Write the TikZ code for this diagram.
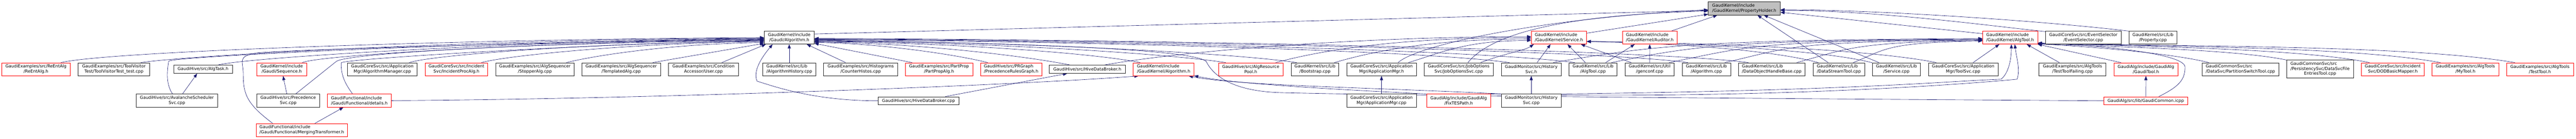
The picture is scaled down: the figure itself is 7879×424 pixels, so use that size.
\documentclass[tikz,border=0pt]{standalone}
\usepackage{fontspec}
\setmainfont{DejaVu Sans}
\usetikzlibrary{arrows.meta,backgrounds}
\definecolor{edgeblue}{HTML}{191970}
\definecolor{truncred}{HTML}{FF0000}
\definecolor{rootgrey}{HTML}{BFBFBF}
\newcommand{\gfont}{\fontsize{9.7pt}{11.5pt}\selectfont}
\tikzset{
  filebox/.style={draw=black!85, fill=white, line width=0.8pt, inner sep=0pt,
    minimum height=30pt, font=\gfont, align=center},
  truncbox/.style={filebox, draw=truncred},
  rootbox/.style={filebox, fill=rootgrey},
  wd/.style={minimum width=#1*0.75pt},
  oneline/.style={minimum height=18.75pt},
  dep/.style={draw=edgeblue, line width=0.75pt, -{Triangle[length=9.5pt,width=7pt]}}
}

\begin{document}
\begin{tikzpicture}[x=0.75pt,y=-0.75pt]
\useasboundingbox (0,0) rectangle (7879,424);

% root
\node[rootbox, wd=220, align=left] (propholder) at (5335,26) {GaudiKernel/include\\/GaudiKernel/PropertyHolder.h};

% first row of includers
\node[filebox, wd=153] (galgo) at (2414,115) {GaudiKernel/include\\/Gaudi/Algorithm.h};
\node[truncbox, wd=169, align=left] (serviceh) at (4768,115) {GaudiKernel/include\\/GaudiKernel/Service.h};
\node[truncbox, wd=167, align=left] (auditorh) at (5046,115) {GaudiKernel/include\\/GaudiKernel/Auditor.h};
\node[truncbox, wd=168, align=left] (algtoolh) at (6148,115) {GaudiKernel/include\\/GaudiKernel/AlgTool.h};
\node[filebox, wd=231] (evtsel) at (6372,115) {GaudiCoreSvc/src/EventSelector\\/EventSelector.cpp};
\node[filebox, wd=147] (propcpp) at (6585,115) {GaudiKernel/src/Lib\\/Property.cpp};

% second row
\node[truncbox, wd=210] (reentalg) at (110,212) {GaudiExamples/src/ReEntAlg\\/ReEntAlg.h};
\node[filebox, wd=219] (toolvisit) at (348.5,212) {GaudiExamples/src/ToolVisitor\\Test/ToolVisitorTest\_test.cpp};
\node[filebox, wd=179, oneline] (algtask) at (621,212) {GaudiHive/src/AlgTask.h};
\node[truncbox, wd=153] (sequence) at (861.5,212) {GaudiKernel/include\\/Gaudi/Sequence.h};
\node[filebox, wd=213] (algmgr) at (1169.5,212) {GaudiCoreSvc/src/Application\\Mgr/AlgorithmManager.cpp};
\node[truncbox, wd=192] (incproc) at (1396,212) {GaudiCoreSvc/src/Incident\\Svc/IncidentProcAlg.h};
\node[filebox, wd=240] (stopper) at (1636,212) {GaudiExamples/src/AlgSequencer\\/StopperAlg.cpp};
\node[filebox, wd=241] (templalg) at (1900,212) {GaudiExamples/src/AlgSequencer\\/TemplatedAlg.cpp};
\node[filebox, wd=213] (user) at (2151.5,212) {GaudiExamples/src/Condition\\Accessor/User.cpp};
\node[filebox, wd=163, align=left] (alghist) at (2414,212) {GaudiKernel/src/Lib\\/AlgorithmHistory.cpp};
\node[filebox, wd=227] (counter) at (2632.5,212) {GaudiExamples/src/Histograms\\/CounterHistos.cpp};
\node[truncbox, wd=206] (partprop) at (2872,212) {GaudiExamples/src/PartProp\\/PartPropAlg.h};
\node[truncbox, wd=187, align=left] (prgraph) at (3092.5,212) {GaudiHive/src/PRGraph\\/PrecedenceRulesGraph.h};
\node[filebox, wd=233, oneline] (brokerh) at (3325.5,212) {GaudiHive/src/HiveDataBroker.h};
\node[truncbox, wd=186, align=left] (gkalgh) at (3559,212) {GaudiKernel/include\\/GaudiKernel/Algorithm.h};
\node[truncbox, wd=197] (respool) at (3825.5,212) {GaudiHive/src/AlgResource\\Pool.h};
\node[filebox, wd=146] (bootstrap) at (4022,212) {GaudiKernel/src/Lib\\/Bootstrap.cpp};
\node[filebox, wd=213] (appmgrh) at (4225.5,212) {GaudiCoreSvc/src/Application\\Mgr/ApplicationMgr.h};
\node[filebox, wd=211] (joboptsvc) at (4461.5,212) {GaudiCoreSvc/src/JobOptions\\Svc/JobOptionsSvc.cpp};
\node[filebox, wd=183] (histsvch) at (4683.5,212) {GaudiMonitor/src/History\\Svc.h};
\node[filebox, wd=147] (algtoolcpp) at (4872.5,212) {GaudiKernel/src/Lib\\/AlgTool.cpp};
\node[filebox, wd=151] (genconf) at (5045.5,212) {GaudiKernel/src/Util\\/genconf.cpp};
\node[filebox, wd=148] (algcpp) at (5219,212) {GaudiKernel/src/Lib\\/Algorithm.cpp};
\node[filebox, wd=204, align=left] (dohandle) at (5419,212) {GaudiKernel/src/Lib\\/DataObjectHandleBase.cpp};
\node[filebox, wd=157, align=left] (dstream) at (5624.5,212) {GaudiKernel/src/Lib\\/DataStreamTool.cpp};
\node[filebox, wd=147] (servcpp) at (5800.5,212) {GaudiKernel/src/Lib\\/Service.cpp};
\node[filebox, wd=213] (toolsvc) at (6004.5,212) {GaudiCoreSvc/src/Application\\Mgr/ToolSvc.cpp};
\node[filebox, wd=205] (toolfail) at (6339,212) {GaudiExamples/src/AlgTools\\/TestToolFailing.cpp};
\node[truncbox, wd=195] (gauditool) at (6563.5,212) {GaudiAlg/include/GaudiAlg\\/GaudiTool.h};
\node[filebox, wd=235, align=left] (partsw) at (6852.5,212) {GaudiCommonSvc/src\\/DataSvc/PartitionSwitchTool.cpp};
\node[filebox, wd=204.5, minimum height=41.25pt] (fileentries) at (7096,211.5) {\begin{tabular}{@{}l@{}}GaudiCommonSvc/src\\/PersistencySvc/DataSvcFile\\\multicolumn{1}{@{}c@{}}{EntriesTool.cpp}\end{tabular}};
\node[truncbox, wd=191] (dodmapper) at (7318.5,212) {GaudiCoreSvc/src/Incident\\Svc/DODBasicMapper.h};
\node[truncbox, wd=205] (mytool) at (7540.5,212) {GaudiExamples/src/AlgTools\\/MyTool.h};
\node[truncbox, wd=205] (testtool) at (7768.5,212) {GaudiExamples/src/AlgTools\\/TestTool.h};

% third and fourth row
\node[filebox, wd=247.5] (avalanche) at (541,308) {GaudiHive/src/AvalancheScheduler\\Svc.cpp};
\node[filebox, wd=193] (precsvc) at (881.5,308) {GaudiHive/src/Precedence\\Svc.cpp};
\node[truncbox, wd=195, align=left] (details) at (1099,308) {GaudiFunctional/include\\/Gaudi/Functional/details.h};
\node[filebox, wd=247, oneline] (brokercpp) at (2809.5,308.5) {GaudiHive/src/HiveDataBroker.cpp};
\node[filebox, wd=213] (appmgrcpp) at (4225.5,308) {GaudiCoreSvc/src/Application\\Mgr/ApplicationMgr.cpp};
\node[truncbox, wd=195] (fixtes) at (4461.5,308) {GaudiAlg/include/GaudiAlg\\/FixTESPath.h};
\node[filebox, wd=183] (histsvccpp) at (4683.5,308) {GaudiMonitor/src/History\\Svc.cpp};
\node[truncbox, wd=256, oneline] (gcommon) at (6563,308.5) {GaudiAlg/src/lib/GaudiCommon.icpp};
\node[truncbox, wd=278.6, align=left] (merging) at (923,398) {GaudiFunctional/include\\/Gaudi/Functional/MergingTransformer.h};

\begin{pgfonlayer}{background}
% into PropertyHolder.h
\draw[dep] (galgo.8) -- (propholder.183);
\draw[dep] (appmgrh.22) .. controls +(60,-55) and +(-500,25) .. (propholder.182);
\draw[dep] (joboptsvc.36) .. controls +(90,-110) and +(-350,10) .. (propholder.184);
\draw[dep] (serviceh.9) -- (propholder.189);
\draw[dep] (auditorh.17) -- (propholder.194);
\draw[dep] (dstream.148) -- (propholder.333);
\draw[dep] (servcpp.159) -- (propholder.341);
\draw[dep] (algtoolh.172) -- (propholder.354);
\draw[dep] (evtsel.171) .. controls +(-150,-15) and +(300,0) .. (propholder.357);
\draw[dep] (propcpp.165) .. controls +(-250,-30) and +(300,0) .. (propholder.358);

% into Gaudi/Algorithm.h, from the left
\draw[dep] (reentalg.15) .. controls +(150,-35) and +(-900,5) .. (galgo.180);
\draw[dep] (toolvisit.14) .. controls +(150,-22) and +(-900,5) .. (galgo.181);
\draw[dep] (avalanche.123) .. controls +(-20,-30) and +(-5,35) .. ++(-12,-100)
  .. controls +(5,-15) and +(-800,8) .. (galgo.182);
\draw[dep] (algtask.16) .. controls +(100,-25) and +(-700,5) .. (galgo.183);
\draw[dep] (merging.167) .. controls +(-80,-60) and +(0,60) .. ++(-90,-150)
  .. controls +(0,-40) and +(-60,10) .. ++(40,-65)
  .. controls +(60,-10) and +(-600,8) .. (galgo.184);
\draw[dep] (sequence.18) .. controls +(60,-25) and +(-600,5) .. (galgo.185);
\draw[dep] (precsvc.42) -- ++(125,-100) .. controls +(40,-25) and +(-700,8) .. (galgo.186);
\draw[dep] (details.135) .. controls +(-30,-40) and +(0,30) .. ++(-35,-95)
  .. controls +(0,-12) and +(-500,8) .. (galgo.187);
\draw[dep] (algmgr.14) .. controls +(80,-25) and +(-500,5) .. (galgo.188);
\draw[dep] (incproc.15) .. controls +(80,-22) and +(-400,5) .. (galgo.189);
\draw[dep] (stopper.12) .. controls +(80,-20) and +(-300,5) .. (galgo.191);
\draw[dep] (templalg.12) -- (galgo.193);
\draw[dep] (user.20) -- (galgo.196);
\draw[dep] (brokercpp.180) .. controls +(-200,0) and +(50,15) .. ++(-370,-60)
  .. controls +(-15,-35) and +(-25,30) .. (galgo.202);
\draw[dep] (alghist) -- (galgo);

% into Gaudi/Algorithm.h, from the right
\draw[dep] (counter.156) -- (galgo.339);
\draw[dep] (partprop.166) -- (galgo.347);
\draw[dep] (prgraph.164) .. controls +(-100,-25) and +(200,3) .. (galgo.349);
\draw[dep] (brokerh.166) .. controls +(-150,-30) and +(300,3) .. (galgo.350);
\draw[dep] (gkalgh.164) .. controls +(-150,-30) and +(400,3) .. (galgo.351);
\draw[dep] (respool.165) .. controls +(-200,-30) and +(500,3) .. (galgo.352);
\draw[dep] (bootstrap.160) .. controls +(-200,-30) and +(600,3) .. (galgo.353);
\draw[dep] (histsvch.163) .. controls +(-300,-40) and +(700,3) .. (galgo.355);
\draw[dep] (algtoolcpp.160) .. controls +(-300,-40) and +(800,3) .. (galgo.356);
\draw[dep] (algcpp.160) .. controls +(-300,-40) and +(900,3) .. (galgo.357);
\draw[dep] (dohandle.164) .. controls +(-300,-40) and +(1000,3) .. (galgo.358);
\draw[dep] (gcommon.west) .. controls +(-1200,-8) and +(400,10) .. ++(-2520,-25)
  .. controls +(-150,-5) and +(20,40) .. ++(-225,-95)
  .. controls +(-40,-45) and +(400,5) .. (galgo.354);

% into Service.h
\draw[dep] (brokerh.14) .. controls +(250,-45) and +(-500,0) .. (serviceh.178);
\draw[dep] (respool.15) .. controls +(150,-40) and +(-400,0) .. (serviceh.180);
\draw[dep] (bootstrap.19) .. controls +(120,-35) and +(-300,0) .. (serviceh.183);
\draw[dep] (appmgrh.14) .. controls +(100,-30) and +(-200,0) .. (serviceh.186);
\draw[dep] (joboptsvc.17) .. controls +(80,-30) and +(-30,20) .. (serviceh.195);
\draw[dep] (histsvch.49) -- (serviceh.219);
\draw[dep] (algtoolcpp.139) -- (serviceh.322);
\draw[dep] (genconf.160) -- (serviceh.343);
\draw[dep] (dstream.162) .. controls +(-150,-40) and +(250,5) .. (serviceh.352);
\draw[dep] (servcpp.165) .. controls +(-150,-40) and +(300,5) .. (serviceh.352);
\draw[dep] (toolsvc.166) .. controls +(-200,-40) and +(400,5) .. (serviceh.352);

% into Auditor.h
\draw[dep] (algtoolcpp.28) -- (auditorh.204);
\draw[dep] (genconf) -- (auditorh);

% into AlgTool.h
\draw[dep] (histsvch.17) .. controls +(300,-50) and +(-900,5) .. (algtoolh.182);
\draw[dep] (algtoolcpp.20) .. controls +(250,-50) and +(-800,5) .. (algtoolh.183);
\draw[dep] (genconf.19) .. controls +(250,-50) and +(-700,5) .. (algtoolh.184);
\draw[dep] (algcpp.20) .. controls +(200,-45) and +(-600,5) .. (algtoolh.185);
\draw[dep] (dohandle.15) .. controls +(150,-40) and +(-400,5) .. (algtoolh.186);
\draw[dep] (dstream.25) .. controls +(100,-40) and +(-300,5) .. (algtoolh.187);
\draw[dep] (toolsvc.34) -- (algtoolh.212);
\draw[dep] (toolfail.153) -- (algtoolh.338);
\draw[dep] (gauditool.165) -- (algtoolh.south east);
\draw[dep] (partsw.168) .. controls +(-100,-25) and +(200,10) .. (algtoolh.347);
\draw[dep] (fileentries.north west) .. controls +(-150,-30) and +(300,10) .. (algtoolh.347);
\draw[dep] (dodmapper.164) .. controls +(-200,-40) and +(400,10) .. (algtoolh.348);
\draw[dep] (mytool.165) .. controls +(-250,-45) and +(500,10) .. (algtoolh.348);
\draw[dep] (testtool.165) .. controls +(-300,-50) and +(600,10) .. (algtoolh.348);
\draw[dep] (gcommon.18) .. controls +(60,-30) and +(0,40) .. ++(80,-90)
  .. controls +(0,-45) and +(150,5) .. (algtoolh.349);
\draw[dep] (histsvccpp.north east) .. controls +(900,-10) and +(-150,5) .. ++(1345,-45)
  .. controls +(25,-20) and +(0,40) .. (algtoolh.281);
\draw[dep] (fixtes.north east) .. controls +(800,17) and +(-200,19) .. ++(1610,-45)
  .. controls +(10,-30) and +(5,40) .. (algtoolh.305);

% into GaudiKernel/Algorithm.h
\draw[dep] (details.east) .. controls +(800,-5) and +(-400,30) .. (gkalgh.195);
\draw[dep] (histsvccpp.north west) .. controls +(-400,-20) and +(150,30) .. (gkalgh.345);
\draw[dep] (fixtes.north west) .. controls +(-250,-12) and +(120,25) .. (gkalgh.348);

% the short ones
\draw[dep] (avalanche.50) -- (algtask.216);
\draw[dep] (precsvc) -- (sequence);
\draw[dep] (merging.27) -- (details.203);
\draw[dep] (brokercpp.9) -- (brokerh.192);
\draw[dep] (appmgrcpp) -- (appmgrh);
\draw[dep] (histsvccpp) -- (histsvch);
\draw[dep] (gcommon) -- (gauditool);
\end{pgfonlayer}
\end{tikzpicture}
\end{document}
